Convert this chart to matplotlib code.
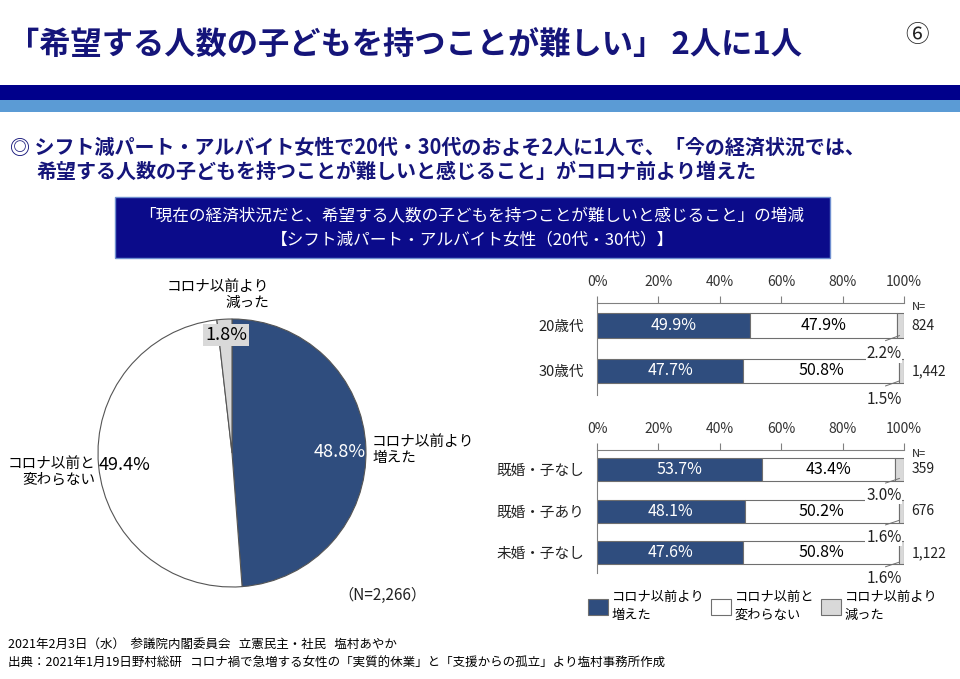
import numpy as np
import matplotlib
matplotlib.use("Agg")
import matplotlib.pyplot as plt
from matplotlib.patches import Rectangle, Patch

plt.rcParams['font.family'] = ['Noto Sans CJK JP', 'DejaVu Sans']

# --- data ---
pie_labels = ['コロナ以前より\n増えた', 'コロナ以前と\n変わらない', 'コロナ以前より\n減った']
pie_vals = [48.8, 49.4, 1.8]

age_cats = ['20歳代', '30歳代']
age_inc = [49.9, 47.7]
age_same = [47.9, 50.8]
age_dec = [2.2, 1.5]
age_n = ['824', '1,442']

st_cats = ['既婚・子なし', '既婚・子あり', '未婚・子なし']
st_inc = [53.7, 48.1, 47.6]
st_same = [43.4, 50.2, 50.8]
st_dec = [3.0, 1.6, 1.6]
st_n = ['359', '676', '1,122']

BLUE = '#2f4d7e'
GRAY = '#d9d9d9'
EDGE = '#6f6f6f'
NAVY = '#15157a'

W, H = 960, 679
fig = plt.figure(figsize=(9.6, 6.79), dpi=100)

def fax(x0, y0, x1, y1):
    # axes from pixel box (top-left origin)
    return fig.add_axes([x0 / W, 1 - y1 / H, (x1 - x0) / W, (y1 - y0) / H])

# background / text layer
bg = fax(0, 0, W, H)
bg.set_xlim(0, W)
bg.set_ylim(H, 0)
bg.axis('off')

bg.text(8, 46, '「希望する人数の子どもを持つことが難しい」 2人に1人', fontsize=22.5,
        fontweight='bold', color=NAVY, va='center', ha='left')
bg.text(917, 36, '⑥', fontsize=17, color='#222222', va='center', ha='center')
bg.add_patch(Rectangle((0, 85), W, 15, color='#00008b', lw=0))
bg.add_patch(Rectangle((0, 100), W, 12, color='#5b9bd5', lw=0))

bg.text(10, 147, '◎ シフト減パート・アルバイト女性で20代・30代のおよそ2人に1人で、「今の経済状況では、',
        fontsize=14.4, fontweight='bold', color=NAVY, va='center', ha='left')
bg.text(36, 171, '希望する人数の子どもを持つことが難しいと感じること」がコロナ前より増えた',
        fontsize=14.4, fontweight='bold', color=NAVY, va='center', ha='left')

bg.add_patch(Rectangle((115, 197), 715, 61, facecolor='#0b0b8a', edgecolor='#6f8fd0', lw=1))
bg.text(472, 217, '「現在の経済状況だと、希望する人数の子どもを持つことが難しいと感じること」の増減',
        fontsize=12, color='white', va='center', ha='center')
bg.text(472, 240, '【シフト減パート・アルバイト女性（20代・30代）】',
        fontsize=12, color='white', va='center', ha='center')

bg.text(382, 595, '（N=2,266）', fontsize=11, color='#222222', va='center', ha='center')

bg.text(8, 645, '2021年2月3日（水）  参議院内閣委員会   立憲民主・社民   塩村あやか',
        fontsize=9, color='black', va='center', ha='left')
bg.text(8, 663, '出典：2021年1月19日野村総研   コロナ禍で急増する女性の「実質的休業」と「支援からの孤立」より塩村事務所作成',
        fontsize=9, color='black', va='center', ha='left')

# pie
pax = fax(98, 319, 366, 587)
pax.pie(pie_vals, colors=[BLUE, 'white', GRAY], startangle=90, counterclock=False,
        radius=1, wedgeprops=dict(edgecolor='#555555', linewidth=0.8))
pax.set_xlim(-1, 1)
pax.set_ylim(-1, 1)
pax.set_aspect('auto')
pax.axis('off')
pax.text(0.80, 0.01, f'{pie_vals[0]:.1f}%', color='white', fontsize=13, ha='center', va='center')
pax.text(1.045, 0.02, pie_labels[0], fontsize=10.5, ha='left', va='center', linespacing=1.2)
pax.text(-0.80, -0.09, f'{pie_vals[1]:.1f}%', color='black', fontsize=13, ha='center', va='center')
pax.text(-1.02, -0.14, pie_labels[1], fontsize=10.5, ha='right', va='center',
         multialignment='right', linespacing=1.2)
pax.text(-0.045, 0.88, f'{pie_vals[2]:.1f}%', color='black', fontsize=13, ha='center', va='center',
         bbox=dict(facecolor=GRAY, edgecolor='none', pad=1.5))
pax.text(0.28, 1.18, pie_labels[2], fontsize=10.5, ha='right', va='center',
         multialignment='right', linespacing=1.2)


def draw_bars(ax, cats, inc, same, dec, ns, ylim):
    y = np.arange(len(cats))
    inc = np.array(inc)
    same = np.array(same)
    dec = np.array(dec)
    h = 0.55
    ax.barh(y, inc, height=h, color=BLUE, edgecolor=EDGE, lw=0.8)
    ax.barh(y, same, left=inc, height=h, color='white', edgecolor=EDGE, lw=0.8)
    ax.barh(y, dec, left=inc + same, height=h, color=GRAY, edgecolor=EDGE, lw=0.8)
    for i in range(len(cats)):
        ax.text(inc[i] / 2, y[i], f'{inc[i]:.1f}%', color='white', fontsize=11.5,
                ha='center', va='center')
        ax.text(inc[i] + same[i] / 2, y[i], f'{same[i]:.1f}%', color='black', fontsize=11.5,
                ha='center', va='center')
        ax.plot([98.5, 94.0], [y[i] + 0.22, y[i] + 0.33], color=EDGE, lw=0.7)
        ax.text(99.2, y[i] + 0.62, f'{dec[i]:.1f}%', color='#222222', fontsize=11,
                ha='right', va='center', zorder=5,
                bbox=dict(facecolor='white', edgecolor='none', pad=0.5))
        ax.text(102.5, y[i], ns[i], fontsize=10, color='#222222', ha='left', va='center')
    ax.text(102.5, ylim[1] - 0.02, 'N=', fontsize=8, color='#222222', ha='left', va='top')
    ax.set_xticks(np.arange(0, 101, 20))
    ax.set_xticklabels([f'{t}%' for t in range(0, 101, 20)])
    ax.set_yticks(y)
    ax.set_yticklabels(cats)
    ax.set_xlim(0, 100)
    ax.set_ylim(ylim)
    ax.xaxis.tick_top()
    ax.tick_params(axis='x', length=5, width=0.8, color='#808080', pad=5,
                   labelsize=10, labelcolor='#333333')
    ax.tick_params(axis='y', length=0, pad=9, labelsize=10.5, labelcolor='#222222')
    for s in ['right', 'bottom']:
        ax.spines[s].set_visible(False)
    for s in ['top', 'left']:
        ax.spines[s].set_color('#808080')
        ax.spines[s].set_linewidth(0.8)
    ax.set_facecolor('none')


ax1 = fax(597, 303, 904, 395)
draw_bars(ax1, age_cats, age_inc, age_same, age_dec, age_n, (1.53, -0.5))

ax2 = fax(597, 450, 904, 573)
draw_bars(ax2, st_cats, st_inc, st_same, st_dec, st_n, (2.48, -0.46))

handles = [Patch(facecolor=BLUE, edgecolor=EDGE, lw=0.8),
           Patch(facecolor='white', edgecolor=EDGE, lw=0.8),
           Patch(facecolor=GRAY, edgecolor=EDGE, lw=0.8)]
leg = fig.legend(handles, pie_labels, ncol=3, frameon=False, fontsize=9.5,
                 loc='upper left', bbox_to_anchor=(588 / W, 1 - 591 / H),
                 handlelength=1.5, handleheight=1.5, handletextpad=0.3, columnspacing=0.5,
                 borderpad=0, borderaxespad=0)
for t in leg.get_texts():
    t.set_linespacing(1.5)

fig.savefig('out.png', dpi=100, facecolor='white')
